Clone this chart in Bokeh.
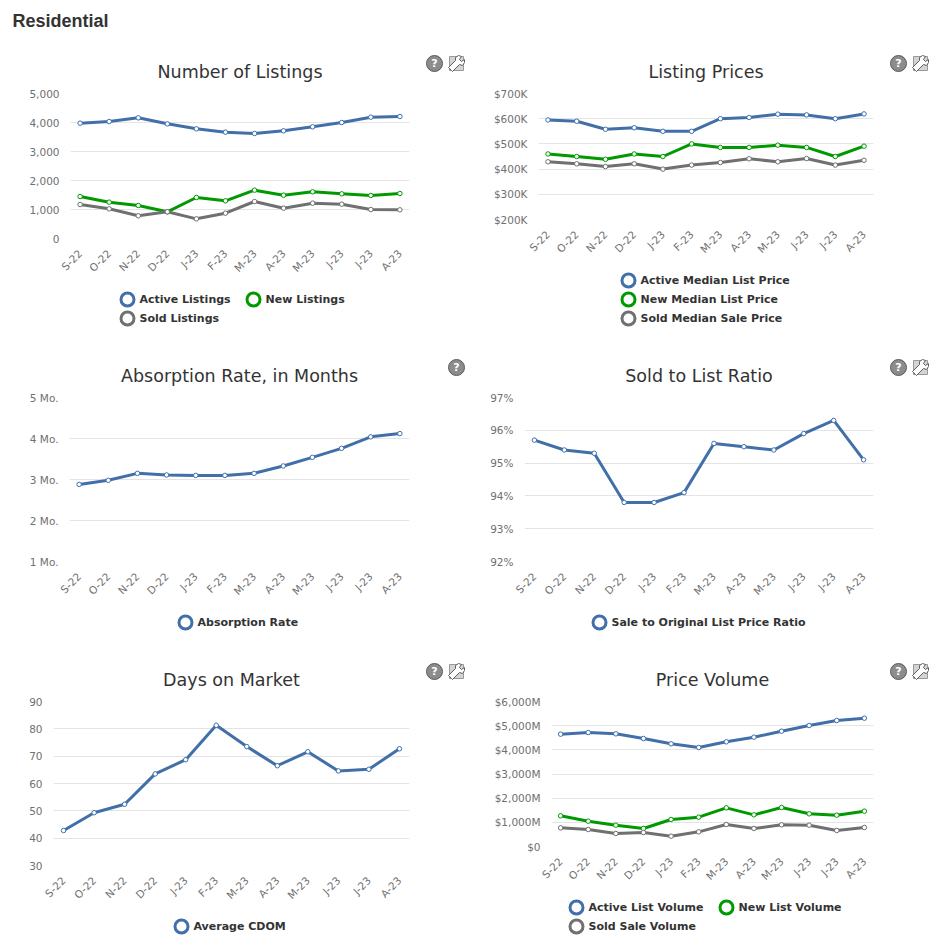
from bokeh.embed import file_html
from bokeh.resources import INLINE
from bokeh.plotting import figure
from bokeh.layouts import column, row
from bokeh.models import BoxAnnotation, FixedTicker, Label, PolyAnnotation, CustomJSTickFormatter
import math

months = ["S-22", "O-22", "N-22", "D-22", "J-23", "F-23", "M-23", "A-23", "M-23", "J-23", "J-23", "A-23"]

active_listings = [3977, 4034, 4161, 3954, 3782, 3667, 3621, 3713, 3851, 4000, 4184, 4207]
new_listings = [1448, 1253, 1138, 920, 1414, 1299, 1667, 1494, 1609, 1540, 1483, 1552]
sold_listings = [1172, 1023, 782, 920, 678, 874, 1276, 1046, 1218, 1184, 1000, 989]

active_price = [595, 590, 558, 564, 550, 550, 600, 605, 618, 615, 600, 619]
new_price = [460, 450, 439, 460, 450, 500, 486, 486, 495, 486, 450, 491]
sold_price = [429, 421, 410, 421, 400, 416, 426, 441, 429, 442, 416, 435]

absorption = [2.88, 2.98, 3.15, 3.11, 3.10, 3.10, 3.15, 3.33, 3.54, 3.76, 4.04, 4.12]
sold_ratio = [95.7, 95.4, 95.3, 93.8, 93.8, 94.1, 95.6, 95.5, 95.4, 95.9, 96.3, 95.1]
cdom = [42.8, 49.3, 52.4, 63.5, 68.7, 81.3, 73.5, 66.5, 71.6, 64.6, 65.2, 72.7]

active_volume = [4648, 4717, 4662, 4469, 4248, 4097, 4331, 4524, 4772, 5007, 5214, 5310]
new_volume = [1269, 1048, 883, 745, 1117, 1214, 1600, 1310, 1614, 1352, 1297, 1462]
sold_volume = [772, 703, 538, 579, 428, 607, 910, 745, 897, 883, 662, 786]

ticks_listings = [0, 1000, 2000, 3000, 4000, 5000]
ticks_price = [200, 300, 400, 500, 600, 700]
ticks_absorption = [1, 2, 3, 4, 5]
ticks_ratio = [92, 93, 94, 95, 96, 97]
ticks_cdom = [30, 40, 50, 60, 70, 80, 90]
ticks_volume = [0, 1000, 2000, 3000, 4000, 5000, 6000]

BLUE, GREEN, GREY = "#416FA9", "#009A00", "#707070"
FONT = "DejaVu Sans"
X_PAD = 0.33
TOP_PAD = 9
BOTTOM_BORDER = 43
W = 473
WRENCH = [(-8, 4), (-4, 8), (3, 1), (6, 2), (8, -1), (8, -4), (5, -2), (3, -4), (5, -7),
          (2, -8), (-1, -6), (-1, -3)]


def y_fmt(prefix, suffix):
    return CustomJSTickFormatter(args=dict(pre=prefix, suf=suffix), code="""
        return tick == 0 ? pre + '0' : pre + Math.round(tick).toLocaleString('en-US') + suf;""")


def strip(height):
    s = figure(width=W, height=height, output_backend="svg", toolbar_location=None,
               x_range=(0, 1), y_range=(0, 1), x_axis_location=None, y_axis_location=None,
               min_border=0, background_fill_color="#FFFFFF", border_fill_color="#FFFFFF")
    s.frame_align = False
    s.outline_line_color = None
    s.grid.visible = False
    return s


def round_box(p, cx, cy, r, fill, line, width, radius=None):
    p.add_layout(BoxAnnotation(left=cx - r, right=cx + r, top=cy - r, bottom=cy + r,
                               left_units="canvas", right_units="canvas", top_units="canvas", bottom_units="canvas",
                               fill_color=fill, fill_alpha=1, line_color=line, line_alpha=1, line_width=width,
                               border_radius=radius if radius is not None else 0))


def icon_help(p, cx, cy):
    round_box(p, cx, cy, 8, "#8C8C8C", "#5A5A5A", 1, 8)
    p.add_layout(Label(x=cx, y=cy, x_units="canvas", y_units="canvas", text="?", text_color="#FFFFFF",
                       text_font=FONT, text_font_size="11px", text_font_style="bold",
                       text_align="center", text_baseline="middle"))


def icon_tool(p, cx, cy):
    round_box(p, cx, cy, 7, "#D4D4D4", "#999999", 1)
    p.add_layout(PolyAnnotation(xs=[cx + a for a, _ in WRENCH], ys=[cy + b for _, b in WRENCH],
                                xs_units="canvas", ys_units="canvas",
                                fill_color="#FFFFFF", fill_alpha=1, line_color="#606060", line_alpha=1, line_width=1))


def cell(title, series, ticks, prefix, suffix, frame, origin, cell_h, legend_pos, icons, title_y, heading=None):
    """frame = (left, right, top, bottom) and origin = (x, y), all in page pixels."""
    left, right, top, bottom = frame
    ox, oy = origin

    # strip above the chart: heading, chart title, icons
    head = strip(top - TOP_PAD - oy)
    if heading:
        head.add_layout(Label(x=12 - ox, y=20 - oy, x_units="canvas", y_units="canvas", text=heading,
                              text_font="Liberation Sans", text_font_size="18px", text_font_style="bold",
                              text_color="#333333", text_baseline="middle"))
    head.add_layout(Label(x=(left + right) / 2 - ox, y=title_y - oy, x_units="canvas", y_units="canvas", text=title,
                          text_font=FONT, text_font_size="17.5px", text_color="#333333",
                          text_align="center", text_baseline="middle"))
    for kind, cx, cy in icons:
        (icon_help if kind == "help" else icon_tool)(head, cx - ox, cy - oy)

    # chart proper
    chart_h = bottom + BOTTOM_BORDER - (top - TOP_PAD)
    p = figure(width=W, height=chart_h, output_backend="svg", toolbar_location=None,
               x_range=(-X_PAD, len(months) - 1 + X_PAD), y_range=(ticks[0], ticks[-1]),
               min_border_left=left - ox, min_border_right=W - (right - ox),
               min_border_top=TOP_PAD, min_border_bottom=BOTTOM_BORDER,
               background_fill_color="#FFFFFF", border_fill_color="#FFFFFF")
    p.frame_align = False
    p.outline_line_color = None
    p.xgrid.visible = False
    p.ygrid.grid_line_color = "#E4E4E4"
    p.ygrid.grid_line_width = 1
    p.ygrid.ticker = FixedTicker(ticks=ticks)

    ax, ay = p.xaxis[0], p.yaxis[0]
    ax.ticker = FixedTicker(ticks=list(range(len(months))))
    ax.major_label_overrides = {i: m for i, m in enumerate(months)}
    ax.major_label_orientation = math.pi / 4
    ax.major_label_standoff = 7
    ay.ticker = FixedTicker(ticks=ticks)
    ay.formatter = y_fmt(prefix, suffix)
    ay.major_label_standoff = 5
    for a in (ax, ay):
        a.axis_line_color = None
        a.major_tick_line_color = None
        a.minor_tick_line_color = None
        a.major_label_text_font = FONT
        a.major_label_text_font_size = "10.5px"
        a.major_label_text_color = "#707070"

    xs = list(range(len(months)))
    for name, values, color in series:
        p.line(xs, values, line_color=color, line_width=3, line_join="round")
        p.scatter(xs, values, size=4.5, marker="circle", fill_color="#FFFFFF", line_color=color, line_width=1)

    # strip below the chart: legend keys and names
    foot_top = bottom + BOTTOM_BORDER
    foot = strip(oy + cell_h - foot_top)
    for (name, values, color), (sx, sy) in zip(series, legend_pos):
        round_box(foot, sx - ox, sy - foot_top, 6.5, "#FFFFFF", color, 3, 7)
        foot.add_layout(Label(x=sx + 12 - ox, y=sy - foot_top, x_units="canvas", y_units="canvas", text=name,
                              text_font=FONT, text_font_size="11px", text_font_style="bold",
                              text_color="#333333", text_baseline="middle"))
    return column(head, p, foot, spacing=0)


H1, H2, H3 = 345, 304, 296
Y1, Y2, Y3 = 0, 345, 649
XL, XR = 0, 473

c1 = cell("Number of Listings",
          [("Active Listings", active_listings, BLUE), ("New Listings", new_listings, GREEN), ("Sold Listings", sold_listings, GREY)],
          ticks_listings, "", "", (70, 409, 93, 238), (XL, Y1), H1,
          [(127, 299), (253, 299), (127, 318)],
          [("help", 434, 63), ("tool", 456, 63)], 71, heading="Residential")

c2 = cell("Listing Prices",
          [("Active Median List Price", active_price, BLUE), ("New Median List Price", new_price, GREEN), ("Sold Median Sale Price", sold_price, GREY)],
          ticks_price, "$", "K", (538, 873, 93, 219), (XR, Y1), H1,
          [(628, 280), (628, 299), (628, 318)],
          [("help", 898, 63), ("tool", 920, 63)], 71)

c3 = cell("Absorption Rate, in Months", [("Absorption Rate", absorption, BLUE)],
          ticks_absorption, "", " Mo.", (69, 409, 397, 561), (XL, Y2), H2,
          [(185, 622)], [("help", 456, 367)], 375)

c4 = cell("Sold to List Ratio", [("Sale to Original List Price Ratio", sold_ratio, BLUE)],
          ticks_ratio, "", "%", (524, 873, 397, 561), (XR, Y2), H2,
          [(599, 622)], [("help", 898, 367), ("tool", 920, 367)], 375)

c5 = cell("Days on Market", [("Average CDOM", cdom, BLUE)],
          ticks_cdom, "", "", (53, 409, 701, 865), (XL, Y3), H3,
          [(181, 926)], [("help", 434, 671), ("tool", 456, 671)], 679)

c6 = cell("Price Volume",
          [("Active List Volume", active_volume, BLUE), ("New List Volume", new_volume, GREEN), ("Sold Sale Volume", sold_volume, GREY)],
          ticks_volume, "$", "M", (551, 873, 701, 846), (XR, Y3), H3,
          [(576, 907), (726, 907), (576, 926)],
          [("help", 898, 671), ("tool", 920, 671)], 679)

root = column(row(c1, c2, spacing=0), row(c3, c4, spacing=0), row(c5, c6, spacing=0), spacing=0)
open("out.html", "w").write(file_html(root, INLINE))
